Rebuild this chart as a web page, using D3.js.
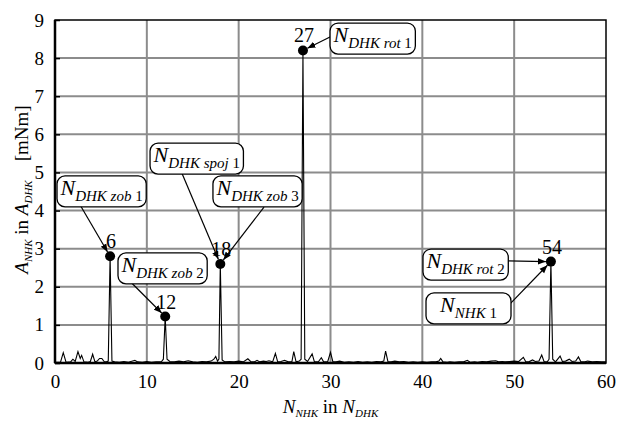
<!DOCTYPE html>
<html>
<head>
<meta charset="utf-8">
<script src="https://cdn.jsdelivr.net/npm/d3@7"></script>
<style>
  body { margin: 0; background: #fff; }
  svg text { font-family: "Liberation Serif", "DejaVu Serif", serif; }
</style>
</head>
<body>
<div id="chart"></div>
<script>
// spectrum: [order, amplitude in mNm]
var spectrum = [
  [0,0.02],[0.6,0.02],[0.9,0.27],[1.2,0.02],[1.7,0.03],[1.95,0.1],[2.2,0.04],[2.5,0.3],[2.75,0.12],[2.9,0.2],
  [3.15,0.03],[3.6,0.02],[3.85,0.04],[4.1,0.23],[4.35,0.03],[4.6,0.05],[4.85,0.12],[5.1,0.12],[5.35,0.04],[5.6,0.03],
  [5.8,0.05],[6.0,2.8],[6.2,0.05],[6.5,0.03],[7,0.02],[7.5,0.04],[8,0.02],[8.7,0.07],[9,0.03],[9.5,0.02],
  [10,0.04],[10.5,0.02],[11,0.03],[11.6,0.04],[11.8,0.1],[12.0,1.22],[12.2,0.1],[12.5,0.04],[13,0.03],[13.5,0.05],
  [14,0.03],[14.5,0.06],[15,0.03],[15.5,0.02],[16,0.04],[16.5,0.03],[17,0.05],[17.3,0.1],[17.5,0.17],[17.7,0.05],
  [17.85,0.1],[18.0,2.6],[18.2,0.08],[18.5,0.03],[19,0.04],[19.5,0.03],[20,0.05],[20.5,0.03],[21,0.11],[21.3,0.04],
  [21.7,0.03],[22,0.07],[22.3,0.03],[22.7,0.05],[23,0.04],[23.3,0.06],[23.7,0.03],[24,0.25],[24.25,0.03],[24.6,0.04],
  [25,0.07],[25.4,0.03],[25.8,0.04],[26,0.3],[26.25,0.03],[26.6,0.05],[26.8,0.1],[27,8.2],[27.2,0.1],[27.5,0.04],
  [28,0.24],[28.25,0.03],[28.7,0.04],[29,0.14],[29.25,0.03],[29.7,0.04],[30,0.28],[30.25,0.04],[30.6,0.03],[31,0.05],
  [31.5,0.02],[32,0.03],[32.5,0.02],[33,0.04],[33.5,0.02],[34,0.03],[34.5,0.02],[35,0.04],[35.5,0.03],[35.8,0.05],
  [36,0.31],[36.25,0.04],[36.6,0.03],[37,0.05],[37.5,0.03],[38,0.04],[38.5,0.02],[39,0.03],[39.5,0.02],[40,0.03],
  [40.5,0.02],[41,0.03],[41.5,0.03],[41.8,0.05],[42,0.12],[42.25,0.03],[42.7,0.02],[43,0.03],[43.5,0.02],[44,0.03],
  [44.5,0.03],[44.9,0.07],[45.2,0.02],[45.7,0.03],[46,0.02],[46.5,0.04],[47,0.03],[47.5,0.05],[48,0.06],[48.3,0.03],
  [48.7,0.04],[49,0.03],[49.5,0.04],[50,0.05],[50.5,0.04],[51,0.15],[51.25,0.04],[51.6,0.03],[52,0.08],[52.3,0.04],
  [52.7,0.05],[53,0.21],[53.25,0.04],[53.6,0.03],[53.8,0.1],[54,2.66],[54.2,0.1],[54.5,0.03],[55,0.18],[55.25,0.04],
  [55.6,0.05],[56,0.1],[56.3,0.04],[56.7,0.05],[57,0.16],[57.25,0.04],[57.7,0.03],[58,0.05],[58.5,0.03],[59,0.04],
  [59.5,0.03],[60,0.03]
];

// marked peaks
var peakOrders = [6, 12, 18, 27, 54];
var peakValues = [2.8, 1.22, 2.6, 8.2, 2.66];

var xTickValues = [0, 10, 20, 30, 40, 50, 60];
var yTickValues = [0, 1, 2, 3, 4, 5, 6, 7, 8, 9];

// callouts: subscript text, number, box left/top (data), arrow start (data), target peak
var calloutSub   = ["DHK zob", "DHK zob", "DHK spoj", "DHK zob", "DHK rot", "DHK rot", "NHK"];
var calloutNum   = ["1", "2", "1", "3", "1", "2", "1"];
var calloutBox   = [[0.22,4.91],[6.86,2.89],[10.35,5.77],[17.2,4.91],[29.95,8.92],[40.07,2.99],[40.4,1.84]];
var calloutFrom  = [[2.8,4.12],[8.35,2.1],[13.8,4.99],[22.76,4.09],[30.16,8.58],[49.2,2.68],[49.55,1.55]];
var calloutPeak  = [0, 1, 2, 2, 3, 4, 4];

var serif = "'Liberation Serif', 'DejaVu Serif', serif";

var margin = {top: 20, right: 11, bottom: 58, left: 55},
    width = 617 - margin.left - margin.right,
    height = 421 - margin.top - margin.bottom;

var svg = d3.select("#chart")
    .append("svg")
      .attr("width", 617)
      .attr("height", 421)
      .attr("font-family", serif)
    .append("g")
      .attr("transform", "translate(" + margin.left + "," + margin.top + ")");

var defs = svg.append("defs");
defs.append("marker")
    .attr("id", "arrow")
    .attr("viewBox", "0 0 10 10")
    .attr("refX", 10).attr("refY", 5)
    .attr("markerWidth", 8).attr("markerHeight", 8)
    .attr("markerUnits", "userSpaceOnUse")
    .attr("orient", "auto")
  .append("path")
    .attr("d", "M0,1 L10,5 L0,9 Z")
    .attr("fill", "#000");

var x = d3.scaleLinear().domain([0, 60]).range([0, width]);
var y = d3.scaleLinear().domain([0, 9]).range([height, 0]);

// grid
svg.append("g")
    .selectAll("line.vg")
    .data(xTickValues.slice(1, -1))
    .enter().append("line")
      .attr("x1", d => x(d)).attr("x2", d => x(d))
      .attr("y1", 0).attr("y2", height)
      .attr("stroke", "#8c8c8c").attr("stroke-width", 2);
svg.append("g")
    .selectAll("line.hg")
    .data(yTickValues.slice(1, -1))
    .enter().append("line")
      .attr("x1", 0).attr("x2", width)
      .attr("y1", d => y(d)).attr("y2", d => y(d))
      .attr("stroke", "#8c8c8c").attr("stroke-width", 2);

// axes
var xAxis = svg.append("g")
    .attr("transform", "translate(0," + height + ")")
    .call(d3.axisBottom(x).tickValues(xTickValues).tickSize(0).tickPadding(12));
xAxis.attr("font-family", serif).attr("font-size", 19);
xAxis.select(".domain").remove();
xAxis.selectAll("text").attr("fill", "#000");

var yAxis = svg.append("g")
    .call(d3.axisLeft(y).tickValues(yTickValues).tickSize(-5).tickPadding(11));
yAxis.attr("font-family", serif).attr("font-size", 19);
yAxis.select(".domain").remove();
yAxis.selectAll("line").attr("stroke", "#000").attr("stroke-width", 1.5);
yAxis.selectAll("text").attr("fill", "#000");

// spectrum line
svg.append("path")
    .datum(spectrum)
    .attr("fill", "none")
    .attr("stroke", "#000")
    .attr("stroke-width", 1.1)
    .attr("d", d3.line().x(d => x(d[0])).y(d => y(d[1])));

// frame
svg.append("rect")
    .attr("width", width).attr("height", height)
    .attr("fill", "none").attr("stroke", "#000").attr("stroke-width", 1.5);
svg.append("line")
    .attr("x1", 0).attr("x2", 0).attr("y1", 0).attr("y2", height)
    .attr("stroke", "#000").attr("stroke-width", 2.5);
svg.append("line")
    .attr("x1", 0).attr("x2", width).attr("y1", height).attr("y2", height)
    .attr("stroke", "#000").attr("stroke-width", 2.5);

// peak markers and numbers
var peaks = peakOrders.map((o, i) => ({order: o, value: peakValues[i]}));
svg.selectAll("circle.peak")
    .data(peaks)
    .enter().append("circle")
      .attr("cx", d => x(d.order)).attr("cy", d => y(d.value))
      .attr("r", 5).attr("fill", "#000");
svg.selectAll("text.peak")
    .data(peaks)
    .enter().append("text")
      .attr("x", d => x(d.order) + 1).attr("y", d => y(d.value) - 8)
      .attr("text-anchor", "middle")
      .attr("font-size", 20)
      .text(d => d.order);

// callouts
var callouts = calloutSub.map((s, i) => ({
  sub: s, num: calloutNum[i], box: calloutBox[i], from: calloutFrom[i], peak: peaks[calloutPeak[i]]
}));

var cg = svg.selectAll("g.callout")
    .data(callouts)
    .enter().append("g");

cg.each(function(d) {
  var g = d3.select(this);
  var bx = x(d.box[0]), by = y(d.box[1]);

  // arrow
  var x1 = x(d.from[0]), y1 = y(d.from[1]);
  var px = x(d.peak.order), py = y(d.peak.value);
  var dx = px - x1, dy = py - y1, len = Math.sqrt(dx * dx + dy * dy);
  g.append("line")
      .attr("x1", x1).attr("y1", y1)
      .attr("x2", px - dx / len * 5).attr("y2", py - dy / len * 5)
      .attr("stroke", "#000").attr("stroke-width", 1.2)
      .attr("marker-end", "url(#arrow)");

  var rect = g.append("rect")
      .attr("x", bx).attr("y", by)
      .attr("height", 31).attr("rx", 8).attr("ry", 8)
      .attr("fill", "#fff").attr("stroke", "#000").attr("stroke-width", 1.3);

  var t = g.append("text")
      .attr("y", by + 19)
      .attr("font-size", 22);
  t.append("tspan").attr("font-style", "italic").text("N");
  t.append("tspan").attr("font-style", "italic").attr("font-size", 15).attr("dy", 6).text(d.sub + " ");
  t.append("tspan").attr("font-size", 15).text(d.num);

  var w = t.node().getComputedTextLength();
  var bw = Math.max(85, w + 7);
  rect.attr("width", bw);
  t.attr("x", bx + (bw - w) / 2);
});

// axis titles
var xt = svg.append("text")
    .attr("x", width / 2).attr("y", height + 50)
    .attr("text-anchor", "middle")
    .attr("font-size", 19);
xt.append("tspan").attr("font-style", "italic").text("N");
xt.append("tspan").attr("font-style", "italic").attr("font-size", 11).attr("dy", 4).text("NHK");
xt.append("tspan").attr("dy", -4).text(" in ");
xt.append("tspan").attr("font-style", "italic").text("N");
xt.append("tspan").attr("font-style", "italic").attr("font-size", 11).attr("dy", 4).text("DHK");

var yt = svg.append("text")
    .attr("transform", "translate(" + (-27) + "," + (height / 2 - 2) + ") rotate(-90)")
    .attr("text-anchor", "middle")
    .attr("font-size", 19);
yt.append("tspan").attr("font-style", "italic").text("A");
yt.append("tspan").attr("font-style", "italic").attr("font-size", 11).attr("dy", 4).text("NHK");
yt.append("tspan").attr("dy", -4).text(" in ");
yt.append("tspan").attr("font-style", "italic").text("A");
yt.append("tspan").attr("font-style", "italic").attr("font-size", 11).attr("dy", 4).text("DHK");
yt.append("tspan").attr("dy", -4).attr("xml:space", "preserve").text("    [mNm]");
</script>
</body>
</html>
